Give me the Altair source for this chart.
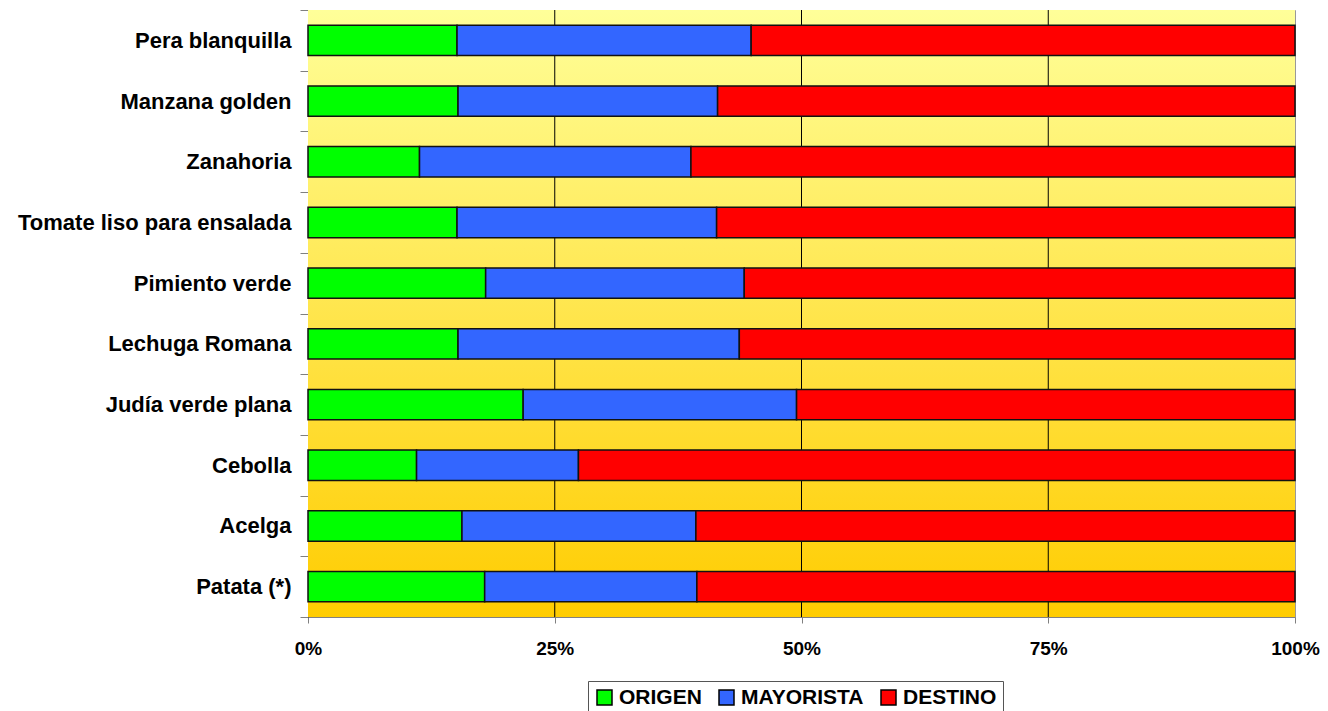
import altair as alt
import pandas as pd

categories = ["Pera blanquilla", "Manzana golden", "Zanahoria", "Tomate liso para ensalada",
              "Pimiento verde", "Lechuga Romana", "Judía verde plana", "Cebolla\u00a0",
              "Acelga", "Patata (*)"]
series = ["ORIGEN", "MAYORISTA", "DESTINO"]
origen = [15.1, 15.2, 11.3, 15.1, 18.0, 15.2, 21.8, 11.0, 15.6, 17.9]
mayorista = [29.8, 26.3, 27.5, 26.3, 26.2, 28.5, 27.7, 16.4, 23.7, 21.5]
destino = [55.1, 58.5, 61.2, 58.6, 55.8, 56.3, 50.5, 72.6, 60.7, 60.6]
colors = ["#00FF00", "#3366FF", "#FF0000"]
x_ticks = [0, 0.25, 0.5, 0.75, 1]
grid_ticks = [0.25, 0.5, 0.75]

rows = []
for i, c in enumerate(categories):
    for j, (s, vals) in enumerate(zip(series, [origen, mayorista, destino])):
        rows.append({"producto": c, "canal": s, "valor": vals[i], "orden": j})
df = pd.DataFrame(rows)

FONT = "Liberation Sans"
xscale = alt.Scale(domain=[0, 1], nice=False, zero=False)
x_axis = alt.Axis(values=x_ticks, format=".0%", title=None, grid=False, tickSize=6,
                  tickColor="#808080", domainColor="#808080", labelFontSize=19,
                  labelFontWeight="bold", labelColor="black", labelPadding=16,
                  labelFont=FONT, labelFlush=False)

bg = alt.Chart(pd.DataFrame({"a": [0]})).mark_rect(
    color=alt.LinearGradient(
        gradient="linear",
        stops=[alt.GradientStop(color="#FFFF99", offset=0),
               alt.GradientStop(color="#FFCC00", offset=1)],
        x1=0, x2=0, y1=0, y2=1)
).encode(
    x=alt.datum(0, scale=xscale, axis=x_axis, type="quantitative"),
    x2=alt.datum(1),
    y=alt.value(0),
    y2=alt.value({"expr": "height"}),
)

grid = alt.Chart(pd.DataFrame({"t": grid_ticks})).mark_rule(color="black", strokeWidth=1).encode(
    x=alt.X("t:Q", scale=xscale, axis=x_axis),
    y=alt.value(0),
    y2=alt.value({"expr": "height"}),
)

bars = alt.Chart(df).mark_bar(height={"band": 0.5}, stroke="#111111", strokeWidth=1.5).encode(
    x=alt.X("valor:Q", stack="normalize", scale=xscale, axis=x_axis),
    y=alt.Y("producto:N", sort=categories,
            scale=alt.Scale(paddingInner=0, paddingOuter=0),
            axis=alt.Axis(title=None, tickBand="extent", tickSize=8, tickColor="#808080",
                          domainColor="#404040", labelFontSize=22, labelFontWeight="bold",
                          labelPadding=9, labelColor="black", labelFont=FONT, labelLimit=400)),
    color=alt.Color("canal:N", sort=series,
                    scale=alt.Scale(domain=series, range=colors),
                    legend=alt.Legend(orient="none", legendX=280, legendY=671,
                                      direction="horizontal", title=None,
                                      symbolType="square", symbolSize=225,
                                      symbolStrokeColor="black", symbolStrokeWidth=1.5,
                                      labelFontSize=21, labelFontWeight="bold",
                                      labelFont=FONT, labelColor="black", labelOffset=4,
                                      columnPadding=14, padding=6, strokeColor="#555555")),
    order=alt.Order("orden:Q", sort="ascending"),
)

chart = alt.layer(bg, grid, bars).properties(
    width=987, height=607, autosize="none",
    padding={"left": 300, "top": 2, "right": 25, "bottom": 100},
    background="white",
).configure_view(stroke="#999999", strokeWidth=1)

chart.save("out.html", embed_options={"renderer": "svg", "actions": False})
